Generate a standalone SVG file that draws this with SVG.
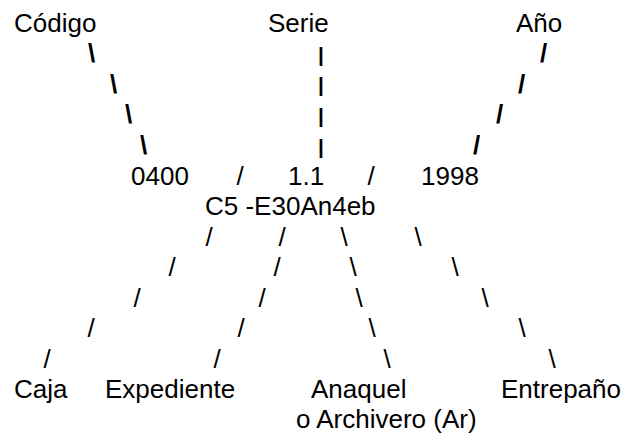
<svg xmlns="http://www.w3.org/2000/svg" width="624" height="437" viewBox="0 0 624 437">
  <style>
    text { font-family: "Liberation Sans", Arial, sans-serif; font-size: 26px; fill: #000; }
    .mid { text-anchor: middle; }
    .bold { font-weight: bold; }
    .bar { font-size: 21px; }
  </style>
  <rect width="624" height="437" fill="#fff"/>

  <!-- top labels -->
  <g id="codigo"><text x="14" y="32">Código</text></g>
  <g id="serie"><text x="268" y="32">Serie</text></g>
  <g id="anio"><text x="516" y="32">Año</text></g>

  <!-- key row: 0400 / 1.1 / 1998 -->
  <g id="valor-codigo"><text x="131" y="185">0400</text></g>
  <g id="valor-serie"><text x="288" y="185">1.1</text></g>
  <g id="valor-anio"><text x="421" y="185">1998</text></g>
  <g id="separadores">
    <text class="mid" x="240" y="185">/</text>
    <text class="mid" x="371" y="185">/</text>
  </g>

  <!-- location code -->
  <g id="signatura"><text x="205" y="215">C5 -E30An4eb</text></g>

  <!-- bottom labels -->
  <g id="caja"><text x="14" y="398">Caja</text></g>
  <g id="expediente"><text x="105" y="398">Expediente</text></g>
  <g id="anaquel">
    <text x="311" y="398">Anaquel</text>
    <text x="296" y="428">o Archivero (Ar)</text>
  </g>
  <g id="entrepano"><text x="501" y="398">Entrepaño</text></g>

  <!-- connectors drawn as typed slashes and bars -->
  <g id="conectores">
    <!-- Código -> 0400 -->
    <g>
      <text class="mid bold" x="91.5" y="62">\</text>
      <text class="mid bold" x="113.5" y="92.5">\</text>
      <text class="mid bold" x="128.5" y="123">\</text>
      <text class="mid bold" x="143.5" y="153.5">\</text>
    </g>
    <!-- Serie -> 1.1 -->
    <g>
      <text class="mid bold bar" x="321" y="62">|</text>
      <text class="mid bold bar" x="321" y="92">|</text>
      <text class="mid bold bar" x="321" y="122.5">|</text>
      <text class="mid bold bar" x="321" y="153.5">|</text>
    </g>
    <!-- Año -> 1998 -->
    <g>
      <text class="mid bold" x="543.5" y="62">/</text>
      <text class="mid bold" x="521.5" y="92.5">/</text>
      <text class="mid bold" x="499.5" y="123">/</text>
      <text class="mid bold" x="476.5" y="153.5">/</text>
    </g>
    <!-- code -> Caja -->
    <g>
      <text class="mid" x="209" y="246">/</text>
      <text class="mid" x="172" y="276">/</text>
      <text class="mid" x="137" y="307">/</text>
      <text class="mid" x="91" y="337">/</text>
      <text class="mid" x="47" y="368">/</text>
    </g>
    <!-- code -> Expediente -->
    <g>
      <text class="mid" x="282" y="246">/</text>
      <text class="mid" x="277" y="276">/</text>
      <text class="mid" x="262" y="307">/</text>
      <text class="mid" x="241" y="337">/</text>
      <text class="mid" x="217" y="368">/</text>
    </g>
    <!-- code -> Anaquel -->
    <g>
      <text class="mid" x="344" y="246">\</text>
      <text class="mid" x="353" y="276">\</text>
      <text class="mid" x="359" y="307">\</text>
      <text class="mid" x="372" y="337">\</text>
      <text class="mid" x="387" y="368">\</text>
    </g>
    <!-- code -> Entrepaño -->
    <g>
      <text class="mid" x="418" y="246">\</text>
      <text class="mid" x="455" y="276">\</text>
      <text class="mid" x="485" y="307">\</text>
      <text class="mid" x="522" y="337">\</text>
      <text class="mid" x="552" y="368">\</text>
    </g>
  </g>
</svg>
